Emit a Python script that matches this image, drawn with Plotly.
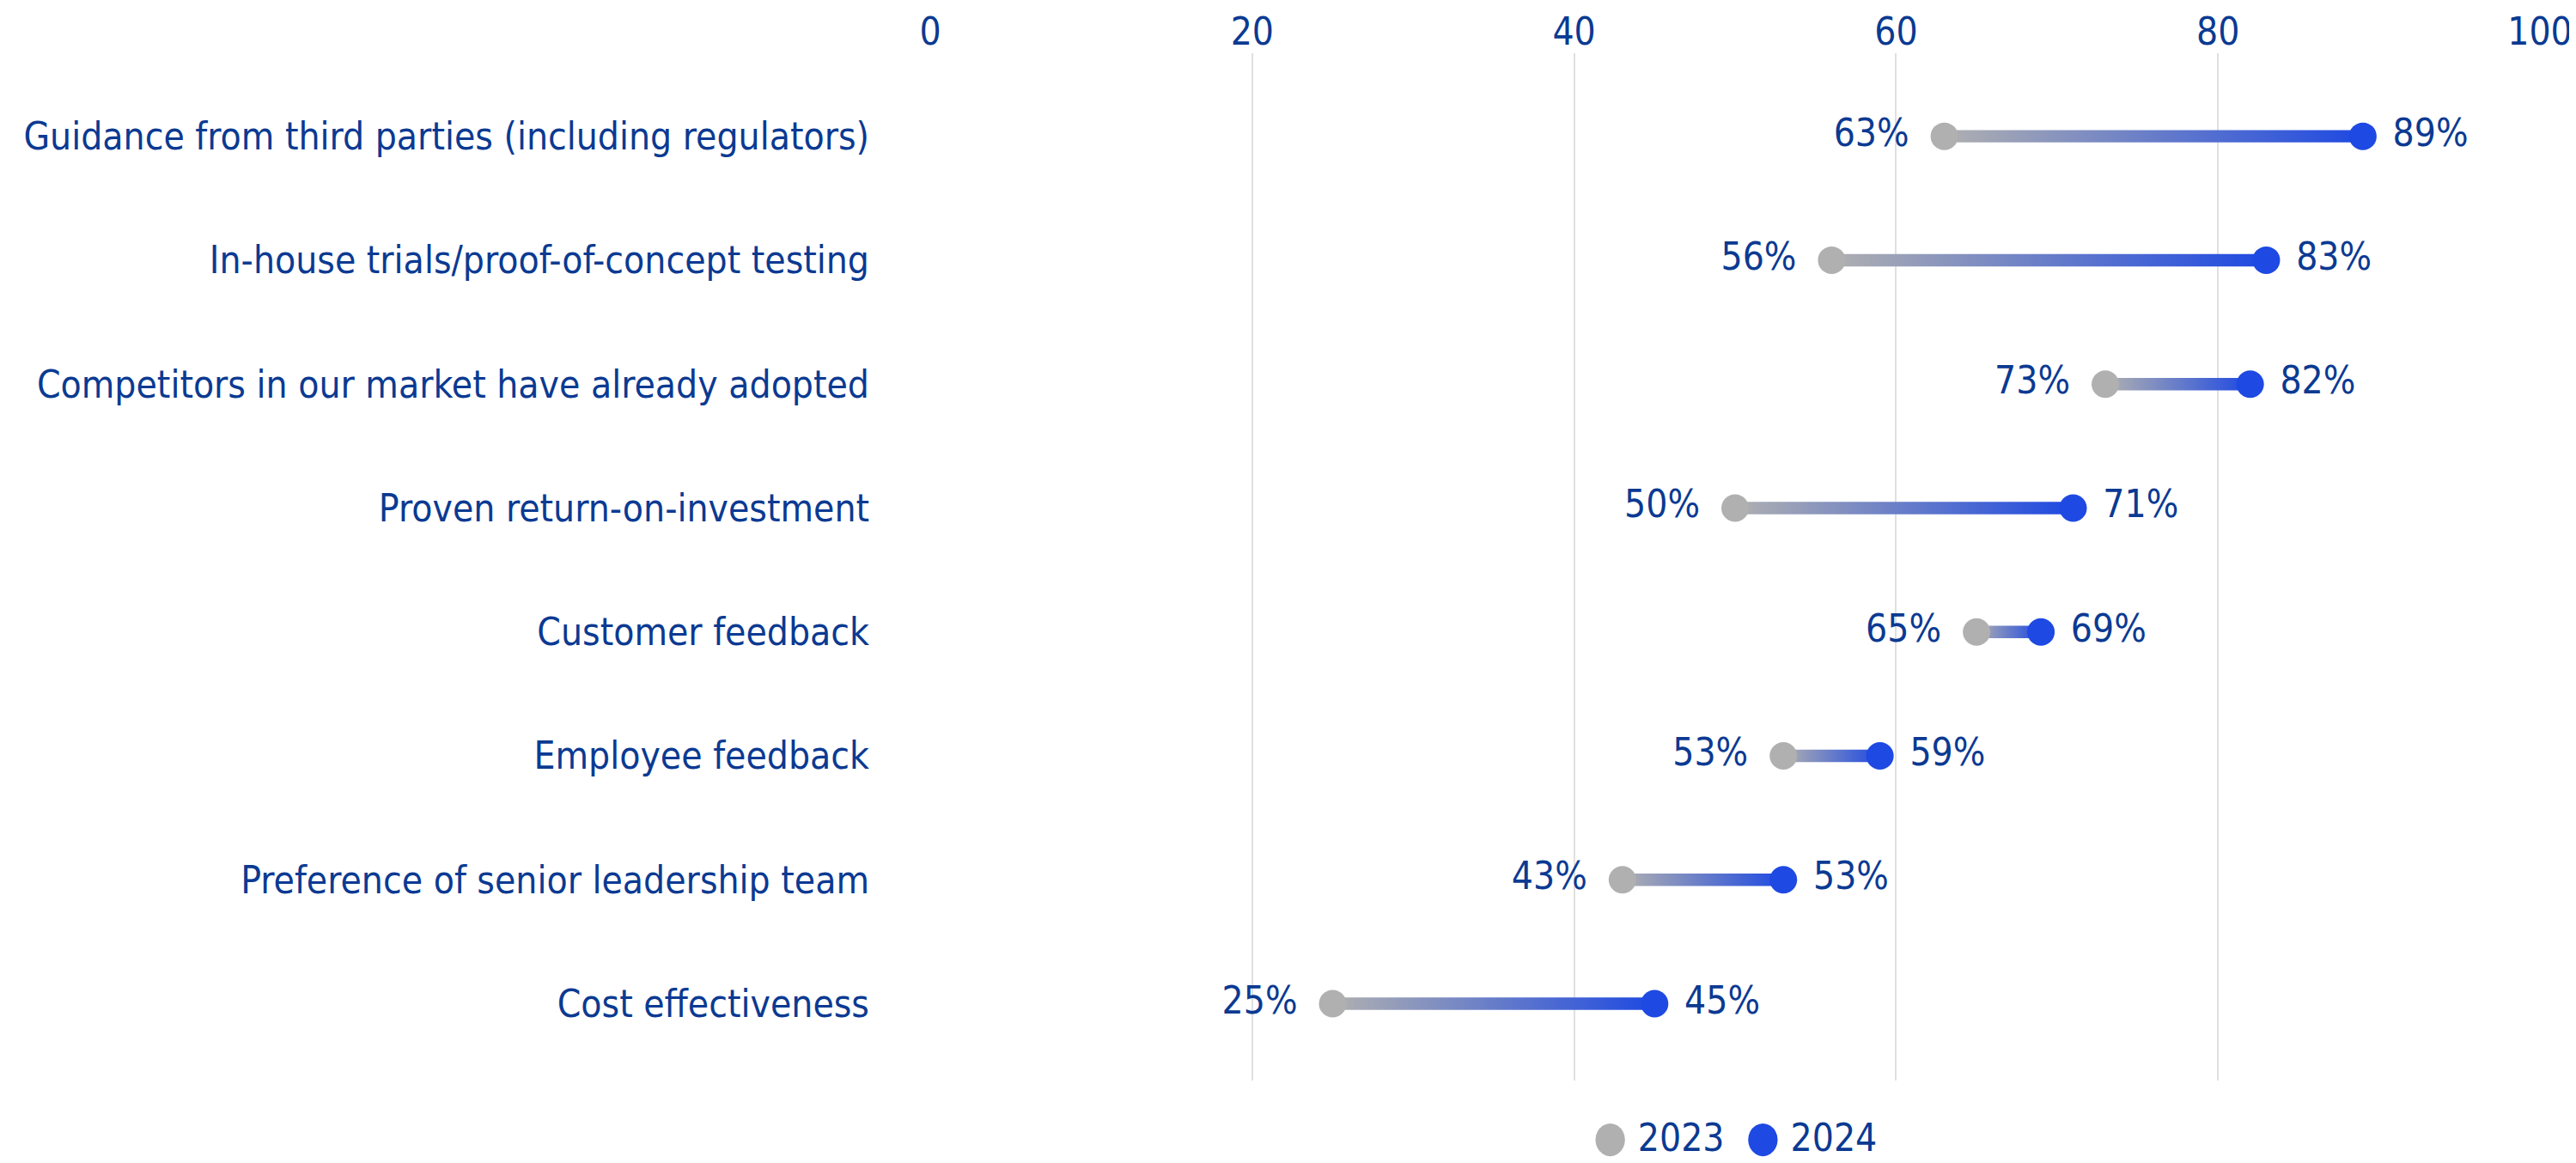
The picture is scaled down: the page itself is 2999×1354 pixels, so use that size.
import plotly.graph_objects as go

categories = [
    "Guidance from third parties (including regulators)",
    "In-house trials/proof-of-concept testing",
    "Competitors in our market have already adopted",
    "Proven return-on-investment",
    "Customer feedback",
    "Employee feedback",
    "Preference of senior leadership team",
    "Cost effectiveness",
]
values_2023 = [63, 56, 73, 50, 65, 53, 43, 25]
values_2024 = [89, 83, 82, 71, 69, 59, 53, 45]
series_names = ["2023", "2024"]
x_ticks = [0, 20, 40, 60, 80, 100]

GRAY = "#B0B0B0"
BLUE = "#1E49E2"
TEXT = "#0B3A92"
FONT = "DejaVu Sans Condensed, Liberation Sans Narrow, sans-serif"
FS = 44
HALF = 0.05  # half thickness of connecting bar, in row units

fig = go.Figure()
rows = list(range(len(categories)))

for i, (a, b) in enumerate(zip(values_2023, values_2024)):
    fig.add_trace(go.Scatter(
        x=[a, b, b, a, a],
        y=[i - HALF, i - HALF, i + HALF, i + HALF, i - HALF],
        mode="lines",
        line=dict(width=0),
        fill="toself",
        fillgradient=dict(type="horizontal",
                          colorscale=[[0, GRAY], [1, BLUE]],
                          start=a, stop=b),
        hoverinfo="skip",
        showlegend=False,
    ))

for vals, color, pos, pad in [(values_2023, GRAY, "middle left", 64),
                              (values_2024, BLUE, "middle right", 54)]:
    fig.add_trace(go.Scatter(
        x=vals, y=rows, mode="markers",
        marker=dict(color=color, size=32),
        showlegend=False,
    ))
    # labels, offset by an invisible larger marker
    fig.add_trace(go.Scatter(
        x=vals, y=rows, mode="markers+text",
        marker=dict(color=color, size=pad, opacity=0),
        text=[f"{v}%" for v in vals], textposition=pos,
        textfont=dict(family=FONT, size=FS, color=TEXT),
        hoverinfo="skip", showlegend=False,
    ))

legend_text = "  ".join(
    f"<span style='color:{c};font-size:50px'>●</span> {n}"
    for c, n in zip([GRAY, BLUE], series_names)
)
fig.add_annotation(
    text=legend_text, xref="paper", yref="paper", x=0.5, y=-0.054,
    xanchor="center", yanchor="middle", showarrow=False, borderpad=0,
    font=dict(family=FONT, size=FS, color=TEXT),
)

fig.update_layout(
    width=2991, height=1346,
    margin=dict(l=1075, r=42, t=54, b=96, autoexpand=False),
    paper_bgcolor="white", plot_bgcolor="white",
    font=dict(family=FONT, size=FS, color=TEXT),
    xaxis=dict(range=[0, 100], side="top", tickvals=x_ticks,
               showgrid=True, gridcolor="#E0E0E0", gridwidth=1.5,
               zeroline=False, showline=False, ticks="",
               ticklabelstandoff=0, automargin=False,
               tickfont=dict(family=FONT, size=FS, color=TEXT)),
    yaxis=dict(range=[7.62, -0.67], tickvals=rows, ticktext=categories,
               showgrid=False, zeroline=False, showline=False, ticks="",
               ticklabelstandoff=70, automargin=False,
               tickfont=dict(family=FONT, size=FS, color=TEXT)),
    showlegend=False,
)

fig.write_html("out.html")
